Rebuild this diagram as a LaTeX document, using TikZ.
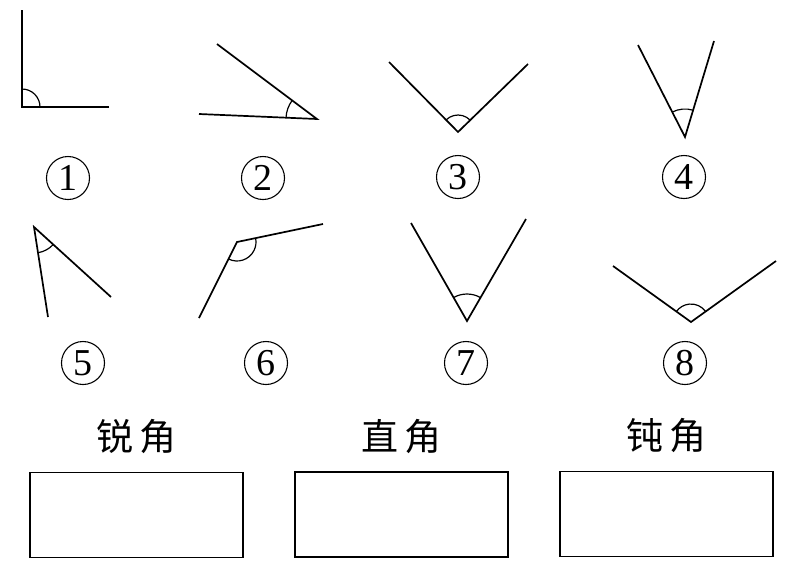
\documentclass[tikz,border=0pt]{standalone}
\usepackage{fontspec}
\newfontfamily\cjk{Noto Sans CJK SC}
\newfontfamily\digits{Liberation Serif}
\usetikzlibrary{angles,positioning}

\begin{document}
\begin{tikzpicture}[x=1pt,y=-1pt,line width=1.7pt,
	num/.style={draw,circle,line width=1.1pt,minimum size=43pt,inner sep=0pt,font=\digits\fontsize{38}{38}\selectfont},
	word/.style={inner sep=0pt,font=\cjk\fontsize{37}{37}\selectfont},
	answer/.style={draw,minimum width=213pt,minimum height=85pt,inner sep=0pt}]
	\useasboundingbox (0,0) rectangle (805,568);
	\coordinate (A1) at (109,107); \coordinate (V1) at (22,107); \coordinate (B1) at (22,10);
	\coordinate (A2) at (217,44); \coordinate (V2) at (317,119); \coordinate (B2) at (199,114);
	\coordinate (A3) at (528,64); \coordinate (V3) at (458,132); \coordinate (B3) at (389,62);
	\coordinate (A4) at (714,41); \coordinate (V4) at (685,137); \coordinate (B4) at (638,45);
	\coordinate (A5) at (48,317); \coordinate (V5) at (34,227); \coordinate (B5) at (111,297);
	\coordinate (A6) at (199,318); \coordinate (V6) at (237,242); \coordinate (B6) at (323,224);
	\coordinate (A7) at (526,219); \coordinate (V7) at (467,321); \coordinate (B7) at (411,223);
	\coordinate (A8) at (776,261); \coordinate (V8) at (691,322); \coordinate (B8) at (613,266);
	\foreach \n/\r in {1/18,2/31,3/17,4/28,5/26,6/19,7/27,8/18}
		\draw (A\n) -- (V\n) -- (B\n) pic[draw,line width=1.2pt,angle radius=\r pt]{angle=A\n--V\n--B\n};
	\foreach \n/\x/\y in {1/68/178,2/263/178,3/458/177,4/684/177,5/83/363,6/266/363,7/466/363,8/685/363}
		\node[num] (lab\n) at (\x,\y) {\n};
	\node[answer] (box1) at (136.5,515) {};
	\node[answer] (box2) at (401.5,514.5) {};
	\node[answer] (box3) at (666.5,514) {};
	\node[word,above=17pt of box1] (acute) {锐\hspace{6pt}角};
	\node[word,above=17pt of box2] (right) {直\hspace{6pt}角};
	\node[word,above=17pt of box3] (obtuse) {钝\hspace{6pt}角};
\end{tikzpicture}
\end{document}
